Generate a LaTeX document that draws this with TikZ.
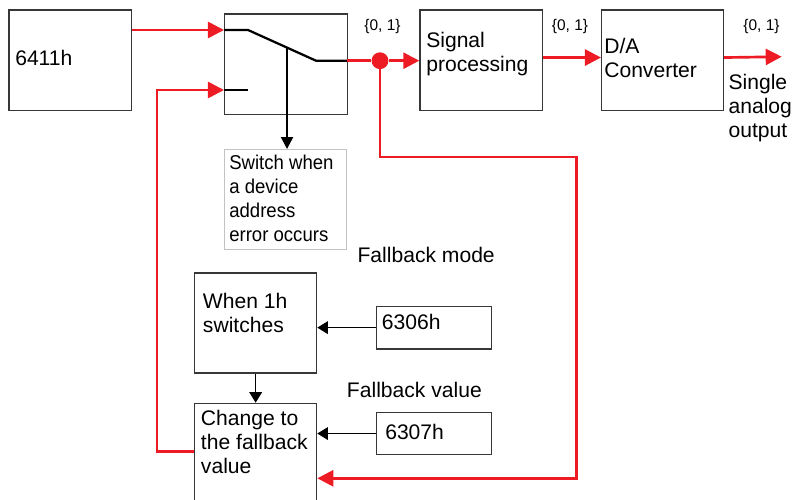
\documentclass[tikz,border=0pt]{standalone}
\usepackage{fontspec}
\setmainfont{Liberation Sans}
\newfontfamily\narrowfont{Liberation Sans}[FakeStretch=0.93]
\usetikzlibrary{arrows.meta}
\definecolor{sigred}{RGB}{237,28,36}
\definecolor{boxgray}{RGB}{55,55,55}
\definecolor{notegray}{RGB}{195,195,195}

\begin{document}
\begin{tikzpicture}[x=0.025cm,y=-0.025cm,
  blk/.style={draw=boxgray,line width=0.9pt,anchor=north west,inner sep=0pt},
  txt/.style={anchor=north west,inner sep=0pt,align=left,font=\fontsize{15}{16.9}\selectfont},
  lbl/.style={inner sep=0pt,font=\fontsize{11}{13}\selectfont},
  sig/.style={draw=sigred,line width=1.9pt,-{Triangle[length=11.4pt,width=11.4pt]}},
  sigline/.style={draw=sigred,line width=1.9pt},
  swline/.style={draw=black,line width=1.6pt},
  swarr/.style={draw=black,line width=1.6pt,-{Triangle[length=8.5pt,width=8.5pt]}},
  thinarr/.style={draw=black,line width=0.75pt,-{Triangle[length=7.5pt,width=9pt]}}]
\useasboundingbox (0,0) rectangle (793,499);
\clip (0,0) rectangle (793,499);
% boxes
\node[blk,minimum width=3.06cm,minimum height=2.52cm] (reg6411) at (8.3,9.3) {};
\node[blk,minimum width=3.075cm,minimum height=2.52cm] (sw) at (224,13.3) {};
\node[blk,draw=notegray,minimum width=3.05cm,minimum height=2.5cm] (note) at (224,149) {};
\node[blk,minimum width=3.06cm,minimum height=2.52cm] (proc) at (419.3,9.3) {};
\node[blk,minimum width=3.04cm,minimum height=2.52cm] (dac) at (601,9.3) {};
\node[blk,minimum width=3.05cm,minimum height=2.5cm] (when) at (194,272.3) {};
\node[blk,minimum width=2.87cm,minimum height=1.065cm] (reg6306) at (376,305.7) {};
\node[blk,minimum width=3.05cm,minimum height=2.75cm] (change) at (194,402.7) {};
\node[blk,minimum width=2.87cm,minimum height=1.06cm] (reg6307) at (376,411.7) {};
% texts
\node[txt] (t6411) at (15,50) {6411h};
\node[txt] (tproc) at (426,31.7) {Signal\\processing};
\node[txt] (tdac) at (604,38.3) {D/A\\Converter};
\node[txt] (tout) at (728.3,74) {Single\\analog\\output};
\node[txt,font=\narrowfont\fontsize{14.2}{16.9}\selectfont] (tnote) at (229,155) {Switch when\\a device\\address\\error occurs};
\node[txt] (tmode) at (357.3,246.7) {Fallback mode};
\node[txt] (twhen) at (202.7,293.3) {When 1h\\switches};
\node[txt] (t6306) at (381.7,314) {6306h};
\node[txt] (tvalue) at (346.7,381.7) {Fallback value};
\node[txt] (tchange) at (200.7,410) {Change to\\the fallback\\value};
\node[txt] (t6307) at (385,424) {6307h};
\node[lbl] (bits1) at (382.5,27) {\{0, 1\}};
\node[lbl] (bits2) at (570,26.7) {\{0, 1\}};
\node[lbl] (bits3) at (761.5,26.7) {\{0, 1\}};
% switch
\coordinate (swA) at (224,30);
\coordinate (swA2) at (248,30);
\coordinate (swP) at (316,60.7);
\coordinate (swOut) at (347,60.7);
\coordinate (swB) at (224,90);
\coordinate (swB2) at (248,90);
\draw[swline] (swA) -- (swA2) -- (swP) -- (swOut);
\draw[swline] (swB) -- (swB2);
\path (swA2) -- (swP) coordinate[pos=0.574] (lever);
\draw[swarr] (lever) -- (lever |- note.north);
% signal path
\node[circle,fill=sigred,minimum size=0.42cm,inner sep=0pt] (dot) at (380,60.7) {};
\draw[sig] (reg6411.east |- swA) -- (swA);
\draw[sigline] (swOut) -- (dot);
\draw[sig] (dot) -- (proc.west |- dot);
\draw[sig] ([yshift=2pt]proc.east) -- ([yshift=2pt]dac.west);
\coordinate (out) at (781.7,56.7);
\draw[sig] ([yshift=2pt]dac.east) -- (out);
% fallback loop
\coordinate (fbR) at (576.7,157);
\coordinate (fbB) at (576.7,478.3);
\coordinate (fbL) at (157,451.7);
\draw[sig] (dot) |- (fbR) -- (fbB) -- (change.east |- fbB);
\draw[sig] (change.west |- fbL) -- (fbL) |- (swB);
% fallback settings
\draw[thinarr] (reg6306.west) -- (when.east |- reg6306.west);
\draw[thinarr] (reg6307.west) -- (change.east |- reg6307.west);
\draw[thinarr] (when.south) -- (change.north);
\end{tikzpicture}
\end{document}
